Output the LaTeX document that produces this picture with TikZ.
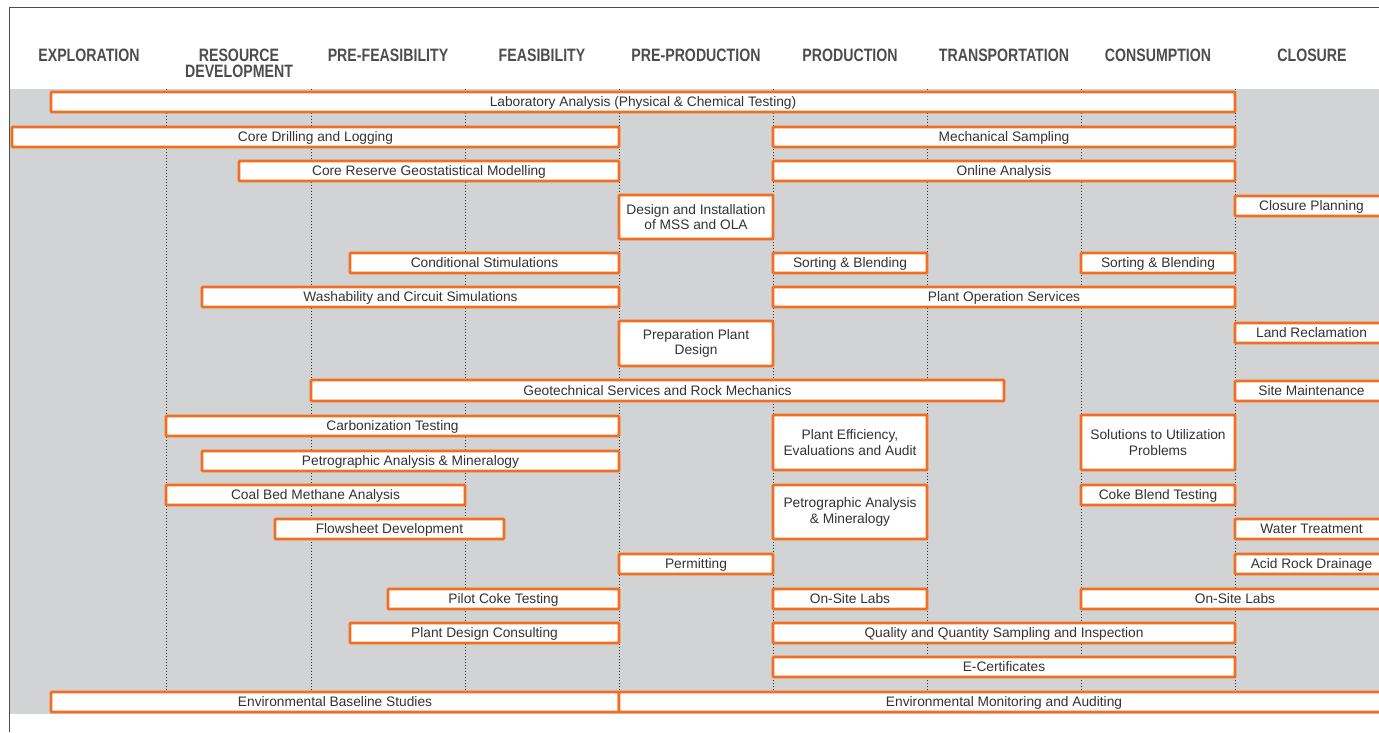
\documentclass[tikz,border=0pt]{standalone}
\usepackage{fontspec}
\setmainfont{Liberation Sans}
\newfontfamily\hdfont[FakeStretch=0.79]{Liberation Sans}
\definecolor{orng}{HTML}{F26F21}
\definecolor{bandc}{HTML}{D1D3D4}
\definecolor{hdc}{HTML}{4D4D4F}
\definecolor{txt}{HTML}{333333}
\definecolor{dotc}{HTML}{333333}
\newcommand\bx[6]{\node[box, onel, minimum width={((#3)-(#2))*1bp}, minimum height={((#5)-(#4))*1bp}] (#1) at ({((#2)+(#3))/2},{((#4)+(#5))/2}) {#6};}
\newcommand\bxtwo[6]{\node[box, minimum width={((#3)-(#2))*1bp}, minimum height={((#5)-(#4))*1bp}] (#1) at ({((#2)+(#3))/2},{((#4)+(#5))/2}) {#6};}
\begin{document}
\begin{tikzpicture}[x=1bp,y=-1bp,
  box/.style={draw=orng, line width=2.6bp, fill=white, inner sep=0pt, rounded corners=0.8bp,
    font=\fontsize{13.8}{15.5}\selectfont, text=txt, align=center},
  onel/.style={text height=9.9bp, text depth=0bp},
  hdr/.style={font=\hdfont\bfseries\fontsize{18}{16}\selectfont, text=hdc, align=center, inner sep=0pt, anchor=base},
  grid/.style={draw=dotc, line width=1bp, dash pattern=on 1.2bp off 1.8bp},
  frame/.style={draw=hdc, line width=1bp}]
\useasboundingbox (0,0) rectangle (1379,732);
\fill[bandc] (10,89) rectangle (1379,714);
\draw[frame] (9,732) -- (9,8) -- (1379,8);
\foreach \x in {166,311,465,619,773,927,1081,1235} \draw[grid] (\x,89) -- (\x,691);
% headers
\node[hdr] (h1) at (89,62) {EXPLORATION};
\node[hdr] (h2) at (239,77.5) {RESOURCE\\DEVELOPMENT};
\node[hdr] (h3) at (388,62) {PRE-FEASIBILITY};
\node[hdr] (h4) at (542,62) {FEASIBILITY};
\node[hdr] (h5) at (696,62) {PRE-PRODUCTION};
\node[hdr] (h6) at (850,62) {PRODUCTION};
\node[hdr] (h7) at (1004,62) {TRANSPORTATION};
\node[hdr] (h8) at (1158,62) {CONSUMPTION};
\node[hdr] (h9) at (1312,62) {CLOSURE};
% boxes
\bx{lab}{51}{1235}{92}{112}{Laboratory Analysis (Physical \& Chemical Testing)}
\bx{core}{12}{619}{127}{147}{Core Drilling and Logging}
\bx{mech}{773}{1235}{127}{147}{Mechanical Sampling}
\bx{coreres}{239}{619}{161}{181}{Core Reserve Geostatistical Modelling}
\bx{online}{773}{1235}{161}{181}{Online Analysis}
\bxtwo{design}{619}{773}{195}{239}{Design and Installation\\of MSS and OLA}
\bx{closplan}{1235}{1388}{196}{216}{Closure Planning}
\bx{cond}{350}{619}{253}{273}{Conditional Stimulations}
\bx{sortA}{773}{927}{253}{273}{Sorting \& Blending}
\bx{sortB}{1081}{1235}{253}{273}{Sorting \& Blending}
\bx{wash}{202}{619}{287}{307}{Washability and Circuit Simulations}
\bx{plantop}{773}{1235}{287}{307}{Plant Operation Services}
\bxtwo{prep}{619}{773}{321}{366}{Preparation Plant\\Design}
\bx{landrec}{1235}{1388}{323}{343}{Land Reclamation}
\bx{geo}{311}{1004}{380}{401}{Geotechnical Services and Rock Mechanics}
\bx{site}{1235}{1388}{381}{401}{Site Maintenance}
\bx{carb}{166}{619}{416}{436}{Carbonization Testing}
\bxtwo{effic}{773}{927}{415}{470}{Plant Efficiency,\\Evaluations and Audit}
\bxtwo{solut}{1081}{1235}{415}{470}{Solutions to Utilization\\Problems}
\bx{petroA}{202}{619}{451}{471}{Petrographic Analysis \& Mineralogy}
\bx{cbm}{166}{465}{485}{505}{Coal Bed Methane Analysis}
\bxtwo{petroB}{773}{927}{485}{539}{Petrographic Analysis\\\& Mineralogy}
\bx{coke}{1081}{1235}{485}{505}{Coke Blend Testing}
\bx{flow}{275}{504}{519}{539}{Flowsheet Development}
\bx{water}{1235}{1388}{519}{539}{Water Treatment}
\bx{permit}{619}{773}{554}{574}{Permitting}
\bx{acid}{1235}{1388}{554}{574}{Acid Rock Drainage}
\bx{pilot}{388}{619}{589}{609}{Pilot Coke Testing}
\bx{labsA}{773}{927}{589}{609}{On-Site Labs}
\bx{labsB}{1081}{1389}{589}{609}{On-Site Labs}
\bx{pdc}{350}{619}{623}{643}{Plant Design Consulting}
\bx{qqs}{773}{1235}{623}{643}{Quality and Quantity Sampling and Inspection}
\bx{ecert}{773}{1235}{657}{677}{E-Certificates}
\bx{envbase}{51}{619}{692}{712}{Environmental Baseline Studies}
\bx{envmon}{619}{1389}{692}{712}{Environmental Monitoring and Auditing}
\end{tikzpicture}
\end{document}
